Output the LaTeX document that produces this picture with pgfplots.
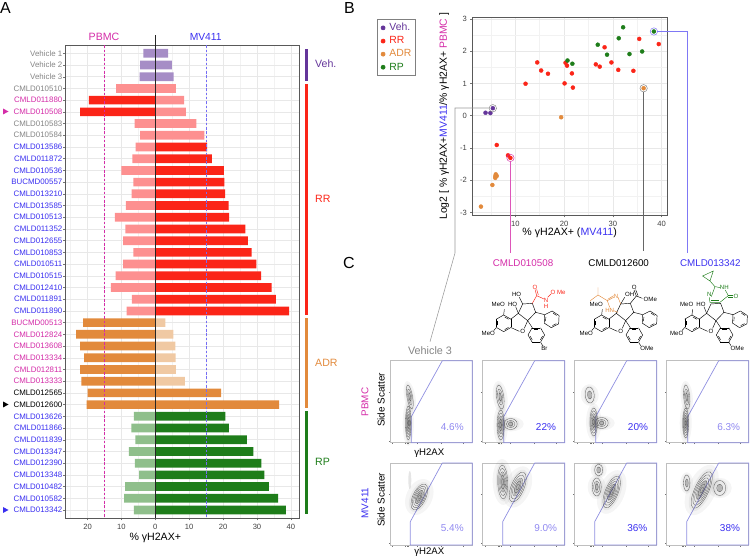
\documentclass[border=0pt]{standalone}
\usepackage{fontspec}
\setmainfont{Liberation Sans}
\usepackage{pgfplots}
\pgfplotsset{compat=1.18}
\definecolor{cVeh}{HTML}{A68DC6}
\definecolor{cVehD}{HTML}{64359A}
\definecolor{cRR}{HTML}{FB2518}
\definecolor{cRRl}{HTML}{FD9090}
\definecolor{cADR}{HTML}{E28A3C}
\definecolor{cADRl}{HTML}{F0C9A3}
\definecolor{cRP}{HTML}{1E7D1A}
\definecolor{cRPl}{HTML}{8FBF8B}
\definecolor{tg}{HTML}{858585}
\definecolor{tm}{HTML}{D42CA8}
\definecolor{tb}{HTML}{3A2FF0}
\definecolor{tbl}{HTML}{8F88F0}
\definecolor{gate}{HTML}{8F8FE0}
\newcommand{\tgr}[1]{\textcolor{tg}{#1}}
\newcommand{\tmg}[1]{\textcolor{tm}{#1}}
\newcommand{\tbu}[1]{\textcolor{tb}{#1}}
\newcommand{\fs}[1]{\fontsize{#1}{#1}\selectfont}
% ---- structure drawing helpers
\newcommand{\hexa}[4]{%
 \foreach \a in {0,60,...,300}{\draw ([shift={(#1,#2)}]{\a+#4}:#3) -- ([shift={(#1,#2)}]{\a+60+#4}:#3);}
 \foreach \a in {0,120,240}{\draw ([shift={(#1,#2)}]{\a+#4+10}:{0.76*#3}) -- ([shift={(#1,#2)}]{\a+50+#4}:{0.76*#3});}}
\newcommand{\chem}[3]{\node[font=\fs{6.1},text=#3,inner sep=0pt] at (#1) {#2};}
\newcommand{\core}{%
 \hexa{86}{130}{25}{30}
 \hexa{230}{118}{25}{33}
 \hexa{184}{165}{25}{0}
 \draw (107.6,117.5)--(130,100)--(158,122)--(148,145);
 \draw (107.6,142.5)--(133,154);
 \draw (130,100)--(143,72)--(172,70)--(182,97)--(158,122);
 \draw (182,97)--(209,104);
 \draw (158,122)--(172,143);
 \draw (86,105)--(88,88);
 \draw (64.3,142.5)--(56,152);
 \chem{143,155}{O}{black}
 \chem{70,73}{MeO}{black}
 \chem{40,160}{MeO}{black}}
\newcommand{\cont}[6]{% x y rx ry rot n
 \fill[black,opacity=.05] (#1,#2) ellipse [x radius=1.35*#3,y radius=1.15*#4,rotate=#5];
 \fill[black,opacity=.04] (#1,#2) ellipse [x radius=2*#3,y radius=1.35*#4,rotate=#5];
 \fill[black,opacity=.22] (#1,#2) ellipse [x radius=.4*#3,y radius=.55*#4,rotate=#5];
 \foreach \k in {1,...,#6}{\draw[black!65,line width=.3pt] (#1,#2) ellipse [x radius={#3*\k/#6},y radius={#4*\k/#6},rotate=#5];}}
\pgfplotsset{flow/.style={
 at={(#1)},anchor=south west,scale only axis,width=82pt,height=82pt,
 xmin=0,xmax=82,ymin=0,ymax=82,y dir=reverse,clip=false,
 axis line style={color=black!25,line width=.5pt},
 xtick={2,15,16.5,18,27,51,73},ytick={31,80},
 xticklabels={},yticklabels={},tick pos=left,tick align=outside,
 major tick length=1.5pt,tick style={color=black!55,line width=.3pt}}}
\begin{document}
\begin{tikzpicture}[x=1pt,y=1pt]
\useasboundingbox (0,0) rectangle (750,557);
% ============ Panel A
\begin{axis}[
 at={(65.5pt,38.7pt)},anchor=south west,scale only axis,width=234.2pt,height=473pt,
 xmin=-26.5,xmax=42.6,ymin=0.317,ymax=40.71,y dir=reverse,clip=false,
 xbar,/pgf/bar shift=0pt,bar width=8.7pt,
 xtick={-20,-10,0,10,20,30,40},minor xtick={-25,-15,-5,5,15,25,35},
 xticklabel={\pgfmathparse{abs(\tick)}\pgfmathprintnumber{\pgfmathresult}},
 ytick={1,...,40},
 yticklabels={\tgr{Vehicle 1},\tgr{Vehicle 2},\tgr{Vehicle 3},\tgr{CMLD010510},\tmg{CMLD011880},\tmg{CMLD010508},\tgr{CMLD010583},\tgr{CMLD010584},\tbu{CMLD013586},\tbu{CMLD011872},\tbu{CMLD010536},\tbu{BUCMD00557},\tbu{CMLD013210},\tbu{CMLD013585},\tbu{CMLD010513},\tbu{CMLD011352},\tbu{CMLD012655},\tbu{CMLD010853},\tbu{CMLD010511},\tbu{CMLD010515},\tbu{CMLD012410},\tbu{CMLD011891},\tbu{CMLD011890},\tmg{BUCMD00513},\tmg{CMLD012824},\tmg{CMLD013608},\tmg{CMLD013334},\tmg{CMLD012811},\tmg{CMLD013333},{CMLD012565},{CMLD012600},\tbu{CMLD013626},\tbu{CMLD011866},\tbu{CMLD011839},\tbu{CMLD013347},\tbu{CMLD012390},\tbu{CMLD013348},\tbu{CMLD010482},\tbu{CMLD010582},\tbu{CMLD013342}},
 /pgf/number format/assume math mode=true,
 yticklabel style={font=\fs{7.9},inner sep=1pt},
 xticklabel style={font=\fs{7.6},text=black!75},
 tick pos=left,tick align=outside,major tick length=2pt,
 minor tick length=0pt,
 tick style={color=black!55,line width=.4pt},
 axis line style={color=black!65,line width=.8pt},
 grid=both,major grid style={color=black!9,line width=.5pt},minor grid style={color=black!5,line width=.4pt},
 xlabel={\% γH2AX+},xlabel style={font=\fs{10.6},at={(axis cs:0,40.71)},anchor=north,yshift=-14pt,inner sep=1pt},
]
\addplot[fill=cVeh,draw=none] coordinates {(-3.5,1)(-4.5,2)(-4.6,3)(3.8,1)(4.9,2)(5.4,3)};
\addplot[fill=cRRl,draw=none] coordinates {(-11.6,4)(6.1,4)(8.5,5)(9.0,6)(-6.1,7)(12.1,7)(-4.5,8)(14.5,8)(-5.8,9)(-6.8,10)(-10,11)(-6.5,12)(-7,13)(-8.7,14)(-11.9,15)(-8.8,16)(-9.5,17)(-6.5,18)(-9.5,19)(-11.7,20)(-13.1,21)(-6.9,22)(-8.5,23)};
\addplot[fill=cRR,draw=none] coordinates {(-19.6,5)(-22.2,6)(15.3,9)(16.7,10)(20.2,11)(20.4,12)(20.6,13)(21.6,14)(21.8,15)(26.6,16)(27.3,17)(28.4,18)(29.8,19)(31.2,20)(34.3,21)(35.6,22)(39.5,23)};
\addplot[fill=cADRl,draw=none] coordinates {(3.0,24)(5.3,25)(5.9,26)(6.0,27)(6.1,28)(8.7,29)};
\addplot[fill=cADR,draw=none] coordinates {(-21.3,24)(-23.4,25)(-22.2,26)(-21,27)(-22.2,28)(-21.8,29)(-20,30)(19.4,30)(-20.3,31)(36.5,31)};
\addplot[fill=cRPl,draw=none] coordinates {(-6.3,32)(-7.1,33)(-5.9,34)(-7.8,35)(-6,36)(-4.8,37)(-8.9,38)(-9.2,39)(-6.3,40)};
\addplot[fill=cRP,draw=none] coordinates {(20.7,32)(21.7,33)(27,34)(28.9,35)(31.3,36)(32.2,37)(33.5,38)(36.2,39)(38.5,40)};
\addplot[xbar=false,sharp plot,no marks,tm,dashed,line width=.6pt,dash pattern=on 2.5pt off 1.8pt] coordinates {(-15,0.317)(-15,40.71)};
\addplot[xbar=false,sharp plot,no marks,tb!70,dashed,line width=.6pt,dash pattern=on 2.5pt off 1.8pt] coordinates {(15,0.317)(15,40.71)};
\addplot[xbar=false,sharp plot,no marks,black!85,line width=.5pt] coordinates {(0,-0.56)(0,40.71)};
\end{axis}
% ============ Panel B
\begin{axis}[
 at={(472.3pt,341.7pt)},anchor=south west,scale only axis,width=194.7pt,height=198pt,
 xmin=1.19,xmax=41.09,ymin=-3.09,ymax=3.05,clip=false,
 xtick={10,20,30,40},minor xtick={5,15,25,35},
 ytick={-3,-2,-1,0,1,2,3},minor ytick={-2.5,-1.5,-0.5,0.5,1.5,2.5},
 /pgf/number format/assume math mode=true,
 ticklabel style={font=\fs{7.6},text=black!75},
 tick pos=left,tick align=outside,major tick length=2pt,minor tick length=0pt,
 tick style={color=black!55,line width=.4pt},
 axis line style={color=black!65,line width=.8pt},
 grid=both,major grid style={color=black!9,line width=.5pt},minor grid style={color=black!5,line width=.4pt},
 xlabel={\% γH2AX+ (\textcolor{tb}{MV411})},
 xlabel style={font=\fs{10.6},inner sep=1pt,at={(axis description cs:0.5,-0.055)},anchor=north},
 ylabel={Log2 [ \% γH2AX+\textcolor{tb}{MV411}/\% γH2AX+ \textcolor{tm}{PBMC} ]},
 ylabel style={font=\fs{10.4},inner sep=0pt,at={(axis description cs:-0.1445,0.5)},anchor=center},
 legend style={at={(axis description cs:-0.4895,0.9914)},anchor=north west,draw=black!50,line width=.7pt,font=\fs{10.4},
  inner xsep=2pt,inner ysep=2pt,row sep=0.4pt,cells={anchor=west},fill=white},
 legend cell align=left,
 legend image code/.code={\path (0,0) (0.26cm,0); \fill[#1] (0.12cm,0cm) circle (2pt);},
]
\addplot[only marks,mark=*,mark size=2pt,mark options={draw=none},color=cVehD] coordinates {(3.9,0.09)(4.9,0.08)(5.4,0.23)};
\addplot[only marks,mark=*,mark size=2pt,mark options={draw=none},color=cRR] coordinates {(6.2,-0.91)(8.5,-1.23)(9,-1.31)(12.1,0.99)(14.5,1.65)(15.3,1.40)(16.7,1.30)(20.1,1.0)(20.3,1.64)(20.6,1.55)(21.6,1.31)(21.8,0.87)(26.5,1.59)(27.3,1.52)(28.3,2.12)(29.7,1.65)(31.1,1.42)(34.2,1.39)(35.4,2.38)(39.4,2.22)};
\addplot[only marks,mark=*,mark size=2pt,mark options={draw=none},color=cADR] coordinates {(2.96,-2.82)(5.3,-2.15)(6,-1.82)(5.9,-1.93)(6.2,-1.87)(5.9,-1.88)(19.4,-0.05)(36.3,0.85)};
\addplot[only marks,mark=*,mark size=2pt,mark options={draw=none},color=cRP] coordinates {(20.7,1.71)(21.7,1.61)(26.9,2.2)(28.8,1.89)(31.2,2.4)(32.1,2.74)(33.4,1.91)(36,1.99)(38.4,2.61)};
\legend{\textcolor{cVehD}{Veh.},\textcolor{cRR}{RR},\textcolor{cADR}{ADR},\textcolor{cRP}{RP}}
\addplot[forget plot,only marks,mark=o,mark size=3.7pt,mark options={line width=.45pt},color=black!50] coordinates {(5.4,0.23)(36.3,0.85)};
\addplot[forget plot,only marks,mark=o,mark size=3.7pt,mark options={line width=.45pt},color=tm] coordinates {(9,-1.31)};
\addplot[forget plot,only marks,mark=o,mark size=3.7pt,mark options={line width=.45pt},color=tb!70] coordinates {(38.4,2.61)};
\end{axis}
% ============ Panel C gates
\begin{axis}[flow={390.3pt,114.3pt}]
\addplot[gate,line width=.7pt,no marks] coordinates {(52,0)(21,56)(21,82)(82,82)(82,0)(52,0)};
\end{axis}
\begin{axis}[flow={482.7pt,114.3pt}]
\addplot[gate,line width=.7pt,no marks] coordinates {(52,0)(21,56)(21,82)(82,82)(82,0)(52,0)};
\end{axis}
\begin{axis}[flow={574.7pt,114.3pt}]
\addplot[gate,line width=.7pt,no marks] coordinates {(52,0)(21,56)(21,82)(82,82)(82,0)(52,0)};
\end{axis}
\begin{axis}[flow={666.7pt,114.3pt}]
\addplot[gate,line width=.7pt,no marks] coordinates {(52,0)(21,56)(21,82)(82,82)(82,0)(52,0)};
\end{axis}
\begin{axis}[flow={390.3pt,12pt}]
\addplot[gate,line width=.7pt,no marks] coordinates {(52,0)(20,58.7)(20,82)(82,82)(82,0)(52,0)};
\end{axis}
\begin{axis}[flow={482.7pt,12pt}]
\addplot[gate,line width=.7pt,no marks] coordinates {(52,0)(20,58.7)(20,82)(82,82)(82,0)(52,0)};
\end{axis}
\begin{axis}[flow={574.7pt,12pt}]
\addplot[gate,line width=.7pt,no marks] coordinates {(52,0)(20,58.7)(20,82)(82,82)(82,0)(52,0)};
\end{axis}
\begin{axis}[flow={666.7pt,12pt}]
\addplot[gate,line width=.7pt,no marks] coordinates {(52,0)(20,58.7)(20,82)(82,82)(82,0)(52,0)};
\end{axis}
% ============ annotations, in image pixels
\begin{scope}[shift={(0,557)},x=1pt,y=-1pt]
 \node[font=\fs{16},anchor=west,inner sep=0pt] at (0,8.5) {A};
 \node[font=\fs{16},anchor=west,inner sep=0pt] at (344,8.5) {B};
 \node[font=\fs{16},anchor=west,inner sep=0pt] at (343,263.3) {C};
 \node[font=\fs{10.6},text=tm] at (104,37.3) {PBMC};
 \node[font=\fs{10.3},text=tb] at (205.7,37.3) {MV411};
 % group strips
 \fill[cVehD] (305,48.7) rectangle (307.6,80.7);
 \fill[cRR] (305,84) rectangle (307.6,315);
 \fill[cADR] (305,318) rectangle (307.6,408.3);
 \fill[cRP] (305,411.3) rectangle (307.6,514.3);
 \node[font=\fs{10.6},text=cVehD,anchor=west,inner sep=0pt] at (315,64) {Veh.};
 \node[font=\fs{10.6},text=cRR,anchor=west,inner sep=0pt] at (315,199) {RR};
 \node[font=\fs{10.6},text=cADR,anchor=west,inner sep=0pt] at (315,362.7) {ADR};
 \node[font=\fs{10.6},text=cRP,anchor=west,inner sep=0pt] at (315,461.7) {RP};
 % row arrows
 \fill[tm] (3,108.5) -- (8.5,111.5) -- (3,114.5) -- cycle;
 \fill[black] (3,401.5) -- (8.5,404.5) -- (3,407.5) -- cycle;
 \fill[tb] (3,507) -- (8.5,510) -- (3,513) -- cycle;
 % leader lines
 \draw[black!40,line width=.55pt] (489,108) -- (455,108) -- (455,253) -- (430,341.7);
 \draw[tm!80,line width=.55pt] (510.3,161.7) -- (510.3,252.7);
 \draw[black!60,line width=.55pt] (643.7,91.7) -- (643.7,251);
 \draw[tb!65,line width=.55pt] (657.3,31.3) -- (687.7,31.3) -- (687.7,252.7);
 % names
 \node[font=\fs{9.8},text=tm] at (523,263) {CMLD010508};
 \node[font=\fs{9.8}] at (618.7,263) {CMLD012600};
 \node[font=\fs{9.8},text=tb] at (710.3,263) {CMLD013342};
 \node[font=\fs{10.8},text=tg] at (430,351) {Vehicle 3};
 % row/column labels
 \node[font=\fs{9.9},rotate=90] at (381,400) {Side Scatter};
 \node[font=\fs{9.9},rotate=90] at (381,500) {Side Scatter};
 \node[font=\fs{9.9},rotate=90,text=tm] at (365,402) {PBMC};
 \node[font=\fs{9.9},rotate=90,text=tb] at (365,503) {MV411};
 \node[font=\fs{9.6}] at (429.3,453.3) {γH2AX};
 \node[font=\fs{9.6}] at (429.3,552) {γH2AX};
 \foreach \x/\t/\c in {452.3/4.6\%/tbl,546/22\%/tb,638/20\%/tb,728.7/6.3\%/tbl}{\node[font=\fs{10},text=\c] at (\x,426.7) {\t};}
 \foreach \x/\t/\c in {452.3/5.4\%/tbl,545.7/9.0\%/tbl,637.3/36\%/tb,730/38\%/tb}{\node[font=\fs{10},text=\c] at (\x,527.7) {\t};}
 % contours: row 1
 \begin{scope}[shift={(390.3,361)}]
  \cont{18}{62}{2.8}{17}{0}{6}\cont{19.5}{36}{2.8}{12}{10}{3}
 \end{scope}
 \begin{scope}[shift={(482.7,361)}]
  \cont{18}{64}{3.6}{15}{0}{5}\cont{17.5}{36}{3.6}{12}{8}{3}\cont{28}{63}{6.5}{5.5}{0}{3}
 \end{scope}
 \begin{scope}[shift={(574.7,361)}]
  \cont{19}{61}{3.8}{14}{0}{5}\cont{15}{34}{4.5}{8}{5}{2}\cont{27}{62}{6.5}{5.5}{0}{3}
 \end{scope}
 \begin{scope}[shift={(666.7,361)}]
  \cont{19}{62}{3}{15}{0}{6}\cont{20}{36}{3}{12}{5}{3}
 \end{scope}
 % contours: row 2
 \begin{scope}[shift={(390.3,462)}]
  \cont{29}{35}{6.5}{14}{-25}{6}\fill[black,opacity=.1] (19.5,18) ellipse [x radius=1.5,y radius=9];
 \end{scope}
 \begin{scope}[shift={(482.7,462)}]
  \cont{20}{20}{5}{17}{2}{5}\cont{35}{25}{6.5}{16}{-22}{5}
 \end{scope}
 \begin{scope}[shift={(574.7,462)}]
  \cont{24}{8}{4}{6}{0}{2}\cont{22}{25}{4.5}{9}{0}{3}\cont{37}{30}{6.5}{17}{-22}{6}
 \end{scope}
 \begin{scope}[shift={(666.7,462)}]
  \cont{20}{21}{3.2}{8}{0}{2}\cont{35}{28}{7}{20}{-25}{6}\cont{53}{26}{6}{7.5}{0}{2}
 \end{scope}
 % structures
 \begin{scope}[shift={(475,280)},x=.3333pt,y=-.3333pt,line width=.45pt]
  \core
  \draw (143,72)--(133,52); \draw (130,100)--(122,80);
  \chem{125,44}{HO}{black}\chem{113,72}{HO}{black}
  \draw (197,187)--(203,197); \chem{208,205}{Br}{black}
  \begin{scope}[color=cRR]
   \draw (172,70)--(185,47)--(207,57); \draw (185,47)--(180,28); \draw (190,45)--(185,28);
   \draw (218,52)--(228,42);
  \end{scope}
  \chem{180,22}{O}{cRR}\chem{213,61}{N}{cRR}\chem{213,78}{H}{cRR}\chem{234,36}{O}{cRR}\chem{259,36}{Me}{cRR}
 \end{scope}
 \begin{scope}[shift={(573,280)},x=.3333pt,y=-.3333pt,line width=.45pt]
  \core
  \draw (143,72)--(155,52); \chem{170,44}{OH}{black}
  \draw (197,187)--(203,197); \chem{222,205}{OMe}{black}
  \draw (172,70)--(190,48)--(208,55); \draw (190,48)--(183,30); \draw (195,47)--(188,29);
  \chem{184,23}{O}{black}\chem{232,57}{OMe}{black}
  \begin{scope}[color=cADR]
   \draw (75,22)--(75,45)--(52,62); \draw (75,45)--(103,62)--(122,52); \draw (104,58)--(122,47);
   \draw (135,52)--(143,72); \draw (103,62)--(110,82); \draw (122,92)--(135,97);
  \end{scope}
  \chem{129,48}{N}{cADR}\chem{110,90}{HN}{cADR}
 \end{scope}
 \begin{scope}[shift={(663.3,280)},x=.3333pt,y=-.3333pt,line width=.45pt]
  \core
  \draw (130,100)--(122,80); \chem{113,72}{HO}{black}
  \draw (197,187)--(203,197); \chem{222,205}{OMe}{black}
  \begin{scope}[color=cRP]
   \draw (140,67)--(138,52); \draw (144,50)--(155,20)--(172,23);
   \draw (186,30)--(195,47)--(170,67)--(140,67); \draw (195,47)--(208,47); \draw (195,52)--(208,52);
   \draw (166,62)--(143,62);
   \draw (155,20)--(140,3)--(118,-12)--(150,-27)--(140,3);
  \end{scope}
  \chem{138,43}{N}{cRP}\chem{183,23}{NH}{cRP}\chem{218,50}{O}{cRP}
 \end{scope}
\end{scope}
\end{tikzpicture}
\end{document}
